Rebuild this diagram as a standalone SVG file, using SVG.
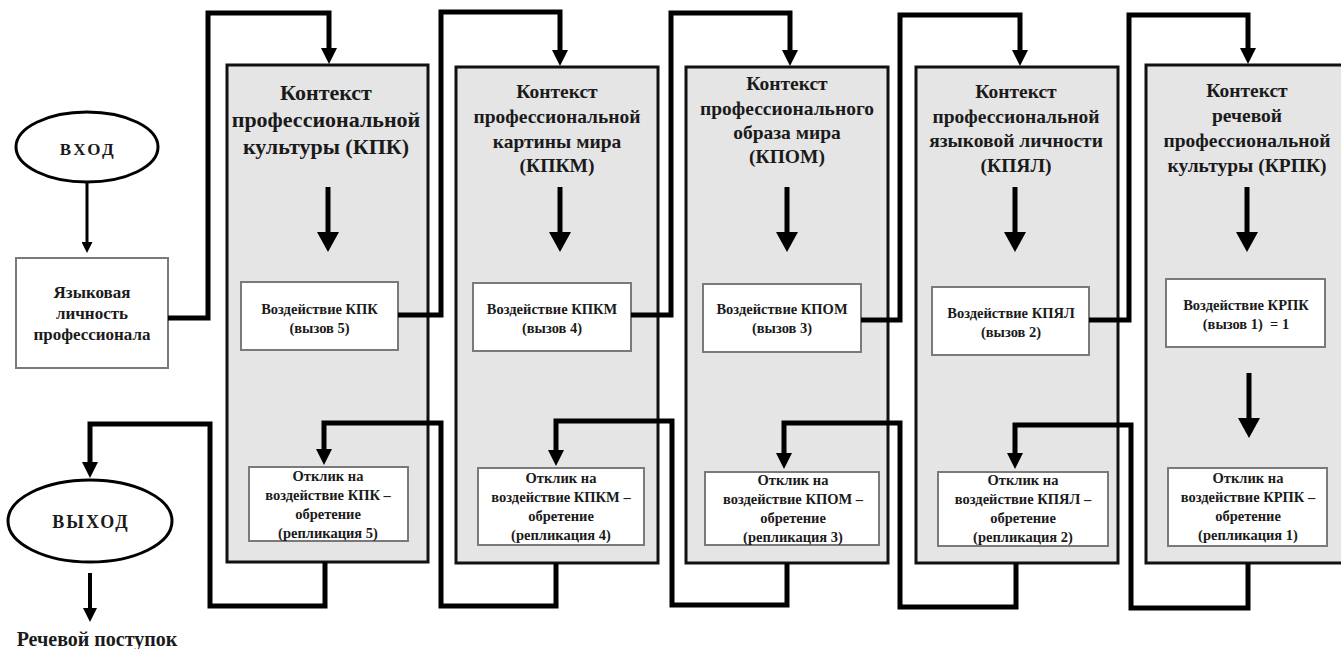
<svg xmlns="http://www.w3.org/2000/svg" width="1341" height="649" viewBox="0 0 1341 649">
<style>
.t{font-family:"Liberation Serif","Times New Roman",serif;font-weight:bold;fill:#1a1a1a;text-anchor:middle}
.h1{font-size:22px}
.h{font-size:19.5px}
.s{font-size:14.5px}
.r{font-size:14.5px}
.ctx{fill:#e5e5e5;stroke:#111;stroke-width:3}
.in{fill:#fff;stroke:#7a7a7a;stroke-width:2}
.el{fill:#fff;stroke:#000;stroke-width:3}
.c{fill:none;stroke:#000;stroke-width:5;stroke-linejoin:miter}
.a{fill:none;stroke:#000;stroke-width:5}
</style>
<defs>
<marker id="ah" viewBox="0 0 16 16" refX="1" refY="8" markerWidth="16" markerHeight="16" markerUnits="userSpaceOnUse" orient="auto"><path d="M0,0 L16,8 L0,16 z" fill="#000"/></marker>
<marker id="ahb" viewBox="0 0 20 22" refX="1" refY="11" markerWidth="20" markerHeight="22" markerUnits="userSpaceOnUse" orient="auto"><path d="M0,0 L20,11 L0,22 z" fill="#000"/></marker>
<marker id="ahm" viewBox="0 0 14 14" refX="1" refY="7" markerWidth="14" markerHeight="14" markerUnits="userSpaceOnUse" orient="auto"><path d="M0,0 L14,7 L0,14 z" fill="#000"/></marker>
<marker id="ahs" viewBox="0 0 11 11" refX="1" refY="5.5" markerWidth="11" markerHeight="11" markerUnits="userSpaceOnUse" orient="auto"><path d="M0,0 L11,5.5 L0,11 z" fill="#000"/></marker>
</defs>
<rect width="1341" height="649" fill="#fff"/>

<g id="vhod">
<ellipse class="el" cx="87" cy="147" rx="71" ry="35"/>
<text class="t" x="88" y="155" font-size="17" letter-spacing="2.5">ВХОД</text>
</g>

<g id="lichnost">
<rect class="in" x="16" y="258" width="152" height="110"/>
<text class="t" x="92" y="298" font-size="17">Языковая</text>
<text class="t" x="92" y="319" font-size="17">личность</text>
<text class="t" x="92" y="340" font-size="17">профессионала</text>
</g>

<g id="vyhod">
<ellipse class="el" cx="90" cy="521" rx="82" ry="41"/>
<text class="t" x="91" y="528" font-size="18" letter-spacing="2">ВЫХОД</text>
</g>

<g id="postupok">
<text class="t" x="97" y="646" font-size="20">Речевой поступок</text>
</g>

<g id="kpk">
<rect class="ctx" x="227" y="65" width="201" height="497"/>
<text class="t h1" x="326" y="100">Контекст</text>
<text class="t h1" x="326" y="127">профессиональной</text>
<text class="t h1" x="326" y="154">культуры (КПК)</text>
<rect class="in" x="241" y="282" width="157" height="68"/>
<text class="t s" x="319.5" y="314">Воздействие КПК</text>
<text class="t s" x="319.5" y="333">(вызов 5)</text>
<rect class="in" x="249" y="467" width="159" height="74"/>
<text class="t r" x="328" y="481">Отклик на</text>
<text class="t r" x="328" y="500">воздействие КПК –</text>
<text class="t r" x="328" y="519">обретение</text>
<text class="t r" x="328" y="538">(репликация 5)</text>
</g>

<g id="kpkm">
<rect class="ctx" x="456" y="67" width="202" height="496"/>
<text class="t h" x="557" y="98">Контекст</text>
<text class="t h" x="557" y="123">профессиональной</text>
<text class="t h" x="557" y="148">картины мира</text>
<text class="t h" x="557" y="172">(КПКМ)</text>
<rect class="in" x="473" y="283" width="158" height="68"/>
<text class="t s" x="552" y="314">Воздействие КПКМ</text>
<text class="t s" x="552" y="333">(вызов 4)</text>
<rect class="in" x="478" y="468" width="166" height="77"/>
<text class="t r" x="561" y="483">Отклик на</text>
<text class="t r" x="561" y="502">воздействие КПКМ –</text>
<text class="t r" x="561" y="521">обретение</text>
<text class="t r" x="561" y="540">(репликация 4)</text>
</g>

<g id="kpom">
<rect class="ctx" x="686" y="67" width="202" height="496"/>
<text class="t h" x="787" y="90">Контекст</text>
<text class="t h" x="787" y="115">профессионального</text>
<text class="t h" x="787" y="139">образа мира</text>
<text class="t h" x="787" y="163">(КПОМ)</text>
<rect class="in" x="703" y="284" width="158" height="68"/>
<text class="t s" x="782" y="314">Воздействие КПОМ</text>
<text class="t s" x="782" y="333">(вызов 3)</text>
<rect class="in" x="705" y="472" width="174" height="73"/>
<text class="t r" x="793" y="485">Отклик на</text>
<text class="t r" x="793" y="504">воздействие КПОМ –</text>
<text class="t r" x="793" y="523">обретение</text>
<text class="t r" x="793" y="542">(репликация 3)</text>
</g>

<g id="kpyal">
<rect class="ctx" x="916" y="67" width="202" height="496"/>
<text class="t h" x="1016" y="98">Контекст</text>
<text class="t h" x="1016" y="123">профессиональной</text>
<text class="t h" x="1016" y="147">языковой личности</text>
<text class="t h" x="1016" y="172">(КПЯЛ)</text>
<rect class="in" x="932" y="287" width="157" height="68"/>
<text class="t s" x="1011" y="318">Воздействие КПЯЛ</text>
<text class="t s" x="1011" y="337">(вызов 2)</text>
<rect class="in" x="938" y="472" width="170" height="74"/>
<text class="t r" x="1023" y="485">Отклик на</text>
<text class="t r" x="1023" y="504">воздействие КПЯЛ –</text>
<text class="t r" x="1023" y="523">обретение</text>
<text class="t r" x="1023" y="542">(репликация 2)</text>
</g>

<g id="krpk">
<rect class="ctx" x="1146" y="65" width="200" height="498"/>
<text class="t h" x="1247" y="97">Контекст</text>
<text class="t h" x="1247" y="122">речевой</text>
<text class="t h" x="1247" y="147">профессиональной</text>
<text class="t h" x="1247" y="172">культуры (КРПК)</text>
<rect class="in" x="1166" y="279" width="159" height="68"/>
<text class="t s" x="1246" y="310">Воздействие КРПК</text>
<text class="t s" x="1246" y="329">(вызов 1) &#160;= 1</text>
<rect class="in" x="1168" y="468" width="159" height="78"/>
<text class="t r" x="1248" y="483">Отклик на</text>
<text class="t r" x="1248" y="502">воздействие КРПК –</text>
<text class="t r" x="1248" y="521">обретение</text>
<text class="t r" x="1248" y="540">(репликация 1)</text>
</g>

<g id="connectors">
<path d="M87,183 V243" fill="none" stroke="#000" stroke-width="3" marker-end="url(#ahs)"/>
<path class="c" d="M168,318 H208 V13 H329 V49" marker-end="url(#ah)"/>
<path class="c" d="M398,315 H441 V12 H560 V51" marker-end="url(#ah)"/>
<path class="c" d="M631,315 H671 V13 H790 V51" marker-end="url(#ah)"/>
<path class="c" d="M861,320 H900 V15 H1020 V51" marker-end="url(#ah)"/>
<path class="c" d="M1089,320 H1129 V15 H1248 V49" marker-end="url(#ah)"/>
<path class="c" d="M556,563 V606 H441 V423 H324 V450" marker-end="url(#ah)"/>
<path class="c" d="M787,563 V605 H672 V421 H556 V451" marker-end="url(#ah)"/>
<path class="c" d="M1016,563 V607 H900 V423 H784 V454" marker-end="url(#ah)"/>
<path class="c" d="M1248,563 V608 H1131 V425 H1015 V454" marker-end="url(#ah)"/>
<path class="c" d="M325,562 V606 H210 V424 H90 V463" marker-end="url(#ah)"/>
<path class="a" d="M328,187 V233" marker-end="url(#ahb)"/>
<path class="a" d="M560,187 V233" marker-end="url(#ahb)"/>
<path class="a" d="M787,187 V233" marker-end="url(#ahb)"/>
<path class="a" d="M1015,187 V233" marker-end="url(#ahb)"/>
<path class="a" d="M1247,187 V233" marker-end="url(#ahb)"/>
<path class="a" d="M1249,373 V419" marker-end="url(#ahb)"/>
<path d="M90,573 V609" fill="none" stroke="#000" stroke-width="4" marker-end="url(#ahm)"/>
</g>
</svg>
